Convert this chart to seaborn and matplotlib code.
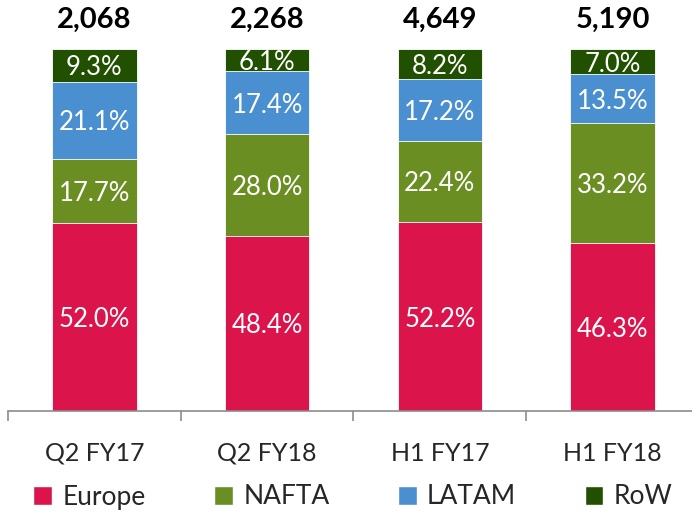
import numpy as np
import matplotlib
matplotlib.use("Agg")
import matplotlib.pyplot as plt
import seaborn as sns
import pandas as pd
from matplotlib.patches import Patch

periods = ["Q2 FY17", "Q2 FY18", "H1 FY17", "H1 FY18"]
totals = ["2,068", "2,268", "4,649", "5,190"]
regions = ["Europe", "NAFTA", "LATAM", "RoW"]
europe = [52.0, 48.4, 52.2, 46.3]
nafta = [17.7, 28.0, 22.4, 33.2]
latam = [21.1, 17.4, 17.2, 13.5]
row = [9.3, 6.1, 8.2, 7.0]
colors = ["#DC144C", "#6B8E23", "#4A8FD0", "#215000"]

sns.set_style("white")
plt.rcParams["font.family"] = ["Lato", "DejaVu Sans"]

df = pd.DataFrame({"period": periods, "Europe": europe, "NAFTA": nafta,
                   "LATAM": latam, "RoW": row})
cum = df[regions].cumsum(axis=1)

fig = plt.figure(figsize=(6.92, 5.13), dpi=100)
ax = fig.add_axes([8 / 692, 102 / 513, 684 / 692, 362 / 513])

# draw cumulative bars from top layer down
for reg, col in reversed(list(zip(regions, colors))):
    sns.barplot(x=df["period"], y=cum[reg], color=col, width=0.49,
                saturation=1, ax=ax, edgecolor="white", linewidth=0.6)

for i in range(len(periods)):
    lower = 0
    for reg in regions:
        v = df.loc[i, reg]
        ax.text(i, lower + v / 2, f"{v:.1f}%", ha="center",
                va="center_baseline", color="white", fontsize=18.5)
        lower += v
    ax.text(i, 108, totals[i], ha="center", va="center", fontsize=21,
            fontweight="bold", color="black")

ax.set_xlim(-0.5, 3.46)
ax.set_ylim(0, 100)
ax.set_xlabel("")
ax.set_ylabel("")
ax.set_yticks([])
for s in ["top", "right", "left"]:
    ax.spines[s].set_visible(False)
ax.spines["bottom"].set_color("#8c8c8c")
ax.spines["bottom"].set_linewidth(1.2)
ax.set_xticks(range(4))
ax.set_xticklabels(periods, fontsize=18)
ax.tick_params(axis="x", which="major", length=0, pad=22)
ax.set_xticks([-0.5, 0.5, 1.5, 2.5], minor=True)
ax.tick_params(axis="x", which="minor", bottom=True, length=7,
               color="#8c8c8c", width=1.2, direction="out")

handles = [Patch(facecolor=c, label=r) for r, c in zip(regions, colors)]
fig.legend(handles=handles, loc="center", bbox_to_anchor=(0.51, 16 / 513),
           ncol=4, frameon=False, fontsize=19, handlelength=0.7,
           handleheight=0.7, handletextpad=0.4, columnspacing=2.6)

fig.savefig("out.png", dpi=100)
